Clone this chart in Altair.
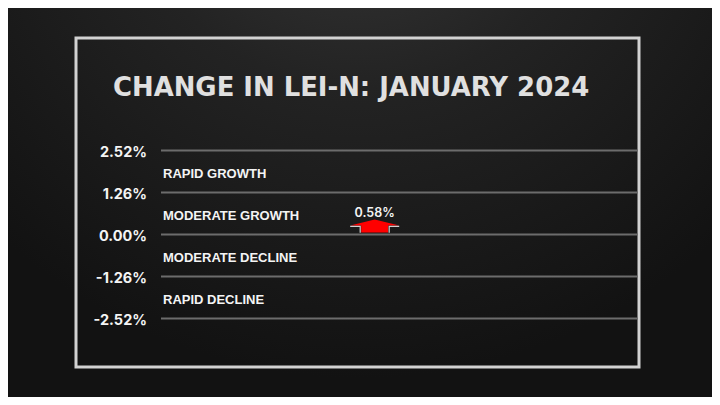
import altair as alt
import pandas as pd

# ---------------- data ----------------
TITLE = "CHANGE IN LEI-N: JANUARY 2024"
tick_values = [2.52, 1.26, 0.00, -1.26, -2.52]
tick_labels = ["2.52%", "1.26%", "0.00%", "-1.26%", "-2.52%"]
zone_names = ["RAPID GROWTH", "MODERATE GROWTH", "MODERATE DECLINE", "RAPID DECLINE"]
zone_mids = [1.89, 0.63, -0.63, -1.89]
months = ["JANUARY 2024"]
changes = [0.58]
change_labels = ["0.58%"]

ticks_df = pd.DataFrame({"v": tick_values, "label": tick_labels})
zones_df = pd.DataFrame({"zone": zone_names, "mid": zone_mids})
val_df = pd.DataFrame({"month": months, "change": changes, "label": change_labels})
title_df = pd.DataFrame({"t": [TITLE]})
one_df = pd.DataFrame({"k": [0]})

# ---------------- layout / style ----------------
W, H = 477, 168
PAD = {"left": 153, "top": 142.5, "right": 74, "bottom": 78.5}
FONT = "Inter, Liberation Sans, sans-serif"
FONT2 = "Liberation Sans, Arial, sans-serif"
FONT_T = "DejaVu Sans, Inter, sans-serif"

yscale = alt.Scale(domain=[-2.52, 2.52], nice=False, zero=False)
xscale = alt.Scale(type="point", align=0.448)

ARROW = "M0,0.172 L0.98,0.412 L0.54,0.412 L0.54,0.692 L-0.54,0.692 L-0.54,0.412 L-0.98,0.412 Z"
ARROW_EDGE = "M-0.98,0.45 L-0.58,0.45 L-0.58,0.70 M0.98,0.45 L0.58,0.45 L0.58,0.70"

bg = alt.Chart(one_df).mark_rect(
    clip=False,
    fill={
        "gradient": "radial",
        "x1": 0.5, "y1": 0.0, "r1": 0.0,
        "x2": 0.5, "y2": 0.0, "r2": 0.75,
        "stops": [
            {"offset": 0.0, "color": "#3a3a3a"},
            {"offset": 0.45, "color": "#232323"},
            {"offset": 1.0, "color": "#121212"},
        ],
    },
).encode(
    x=alt.value(-PAD["left"]), x2=alt.value(W + PAD["right"]),
    y=alt.value(-PAD["top"]), y2=alt.value(H + PAD["bottom"]),
)

frame = alt.Chart(one_df).mark_rect(
    clip=False, fillOpacity=0, stroke="#d2d2d2", strokeWidth=3
).encode(
    x=alt.value(-85), x2=alt.value(478),
    y=alt.value(-112.5), y2=alt.value(216.5),
)

rules = alt.Chart(ticks_df).mark_rule(color="#6c6c6c", strokeWidth=2).encode(
    y=alt.Y("v:Q", scale=yscale, axis=None),
    x=alt.value(0), x2=alt.value(W),
)

tick_text = alt.Chart(ticks_df).mark_text(
    align="right", baseline="middle", dy=2, font=FONT, fontSize=14.5,
    fontWeight="bold", color="#f4f4f4", clip=False,
).encode(
    y=alt.Y("v:Q", scale=yscale, axis=None),
    x=alt.value(-14),
    text="label:N",
)

zone_text = alt.Chart(zones_df).mark_text(
    align="left", baseline="middle", dy=2.5, font=FONT2, fontSize=13,
    fontWeight="bold", color="#f4f4f4",
).encode(
    y=alt.Y("mid:Q", scale=yscale, axis=None),
    x=alt.value(2),
    text="zone:N",
)

arrow = alt.Chart(val_df).mark_point(
    shape=ARROW, size=2500, filled=True, fill="#ff0000", opacity=1, strokeWidth=0,
).encode(
    x=alt.X("month:N", scale=xscale, axis=None),
    y=alt.Y("change:Q", scale=yscale, axis=None),
)

arrow_edge = alt.Chart(val_df).mark_point(
    shape=ARROW_EDGE, size=2500, filled=False, stroke="#d0d0d0", strokeWidth=1.2, opacity=1,
).encode(
    x=alt.X("month:N", scale=xscale, axis=None),
    y=alt.Y("change:Q", scale=yscale, axis=None),
)

val_text = alt.Chart(val_df).mark_text(
    align="center", baseline="middle", dy=-2.5, font=FONT, fontSize=12.5,
    fontWeight=600, color="#f4f4f4",
).encode(
    x=alt.X("month:N", scale=xscale, axis=None),
    y=alt.Y("change:Q", scale=yscale, axis=None),
    text="label:N",
)

title = alt.Chart(title_df).mark_text(
    align="left", baseline="alphabetic", font=FONT_T, fontSize=25.9,
    fontWeight="bold", color="#e0e0e0", clip=False,
).encode(
    x=alt.value(-48), y=alt.value(-55), text="t:N",
)

chart = alt.layer(
    bg, frame, rules, tick_text, zone_text, arrow, arrow_edge, val_text, title
).properties(
    width=W, height=H, padding=PAD,
    autosize=alt.AutoSizeParams(type="none"),
    background="#161616",
).configure_view(stroke=None)

chart.save("out.html", embed_options={"renderer": "svg", "actions": False})
